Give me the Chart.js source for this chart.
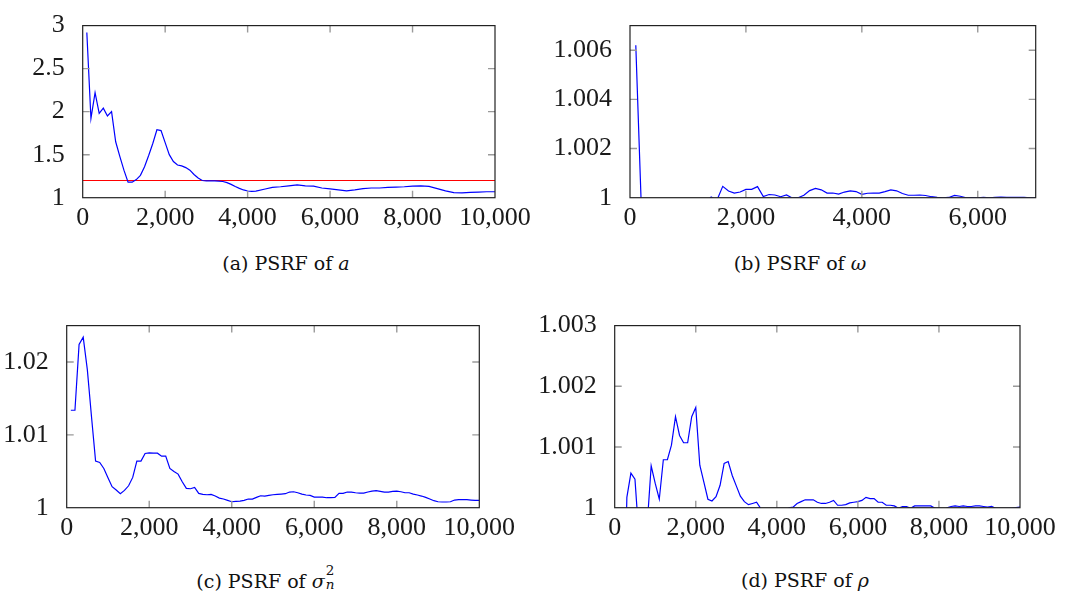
<!DOCTYPE html>
<html>
<head>
<meta charset="utf-8">
<script src="https://cdn.jsdelivr.net/npm/chart.js@4.4.1/dist/chart.umd.min.js"></script>
<style>
  body { margin: 0; background: #fff; width: 1072px; height: 592px; position: relative; overflow: hidden; }
  canvas { position: absolute; }
  .cap { position: absolute; font-family: 'DejaVu Serif', serif; font-size: 19px; line-height: 22px; color: #111; white-space: nowrap; transform: translateX(-50%); }
  .ss { position: relative; display: inline-block; width: 11px; height: 19px; }
  .ss span { position: absolute; left: 1px; font-size: 13.5px; line-height: 1; }
  .ss .sup { top: -5px; }
  .ss .sub { top: 9px; }
</style>
</head>
<body>
<canvas id="psrfA" width="536" height="240" style="left:0;top:0"></canvas>
<canvas id="psrfB" width="536" height="240" style="left:536px;top:0"></canvas>
<canvas id="psrfC" width="536" height="255" style="left:0;top:300px"></canvas>
<canvas id="psrfD" width="536" height="255" style="left:536px;top:300px"></canvas>
<div class="cap" style="left:286px;top:252px">(a) PSRF of <i>a</i></div>
<div class="cap" style="left:800px;top:252px">(b) PSRF of <i>ω</i></div>
<div class="cap" style="left:266px;top:569px">(c) PSRF of <i>σ</i><span class="ss"><span class="sup">2</span><span class="sub"><i>n</i></span></span></div>
<div class="cap" style="left:805px;top:569px">(d) PSRF of <i>ρ</i></div>
<script>
// PSRF per iteration count for the four parameters
const itersA = [100,200,300,400,500,600,700,800,900,1000,1100,1200,1300,1400,1500,1600,1700,1800,1900,2000,
  2100,2200,2300,2400,2500,2600,2700,2800,2900,3000,3100,3200,3300,3400,3500,3600,3700,3800,3900,4000,4100,4200,
  4400,4600,4800,5000,5200,5400,5600,5800,6000,6200,6400,6600,6800,7000,7200,7400,7600,7800,8000,8200,8400,8600,
  8800,9000,9200,9400,9600,9800,10000]
const psrfA = [2.92,1.92,2.22,1.98,2.04,1.95,2.0,1.65,1.48,1.32,1.18,1.18,1.21,1.26,1.36,1.49,1.63,1.79,1.78,1.64,
  1.5,1.42,1.38,1.37,1.35,1.32,1.27,1.23,1.2,1.195,1.195,1.195,1.193,1.188,1.175,1.155,1.13,1.108,1.09,1.078,1.074,1.076,
  1.098,1.12,1.127,1.138,1.149,1.138,1.135,1.113,1.102,1.091,1.08,1.091,1.105,1.113,1.113,1.12,1.124,1.127,1.135,1.138,1.131,1.105,
  1.08,1.058,1.055,1.062,1.065,1.069,1.069]
const thresholdA = 1.2

const itersB = [100,200,300,400,500,600,700,800,900,1000,1100,1200,1300,1400,1500,1600,1700,1800,1900,2000,
  2100,2200,2300,2400,2500,2600,2700,2800,2900,3000,3100,3200,3300,3400,3500,3600,3700,3800,3900,4000,
  4100,4200,4300,4400,4500,4600,4700,4800,4900,5000,5100,5200,5300,5400,5500,5600,5700,5800,5900,6000,
  6100,6200,6300,6400,6500,6600,6700,6800,6900,7000]
const psrfB = [1.0062,0.9993,0.9988,0.9985,0.9984,0.9987,0.999,0.9992,0.9993,0.9995,0.9996,0.9997,0.9998,1.00003,0.9999,1.00046,1.00027,1.00019,1.00023,1.00034,
  1.00034,1.00045,1.00005,1.00013,1.00011,1.00004,1.00011,0.99999,1.0,1.0001,1.00029,1.00038,1.00032,1.00019,1.00019,1.00015,1.00023,1.00028,1.00025,1.00014,
  1.00018,1.00019,1.00019,1.00025,1.00032,1.00028,1.00017,1.0001,1.0001,1.00011,1.00009,1.00004,1.00001,0.99999,1.00001,1.00009,1.00006,0.99999,1.0,0.99999,
  1.00001,0.99999,1.00001,1.00002,1.00001,1.00001,1.00001,1.00001,0.99999,0.99999]

const itersC = [100,200,300,400,500,600,700,800,900,1000,1100,1200,1300,1400,1500,1600,1700,1800,1900,2000,
  2100,2200,2300,2400,2500,2600,2700,2800,2900,3000,3100,3200,3300,3400,3500,3600,3700,3800,3900,4000,
  4100,4200,4300,4400,4500,4600,4700,4800,4900,5000,5100,5200,5300,5400,5500,5600,5700,5800,5900,6000,
  6100,6200,6300,6400,6500,6600,6700,6800,6900,7000,7100,7200,7300,7400,7500,7600,7700,7800,7900,8000,
  8100,8200,8300,8400,8500,8600,8700,8800,8900,9000,9100,9200,9300,9400,9500,9600,9700,9800,9900,10000]
const psrfC = [1.01338,1.01338,1.02242,1.02342,1.01895,1.01256,1.00639,1.00621,1.00539,1.00411,1.00288,1.00242,1.00192,1.00237,1.00301,1.00416,1.00639,1.00639,1.00744,1.00753,
  1.00749,1.00749,1.00708,1.00708,1.00539,1.00498,1.00461,1.00356,1.00265,1.0026,1.00279,1.00196,1.00183,1.00178,1.00183,1.0016,1.00132,1.00119,1.001,1.00082,
  1.00087,1.00091,1.001,1.00119,1.00119,1.00142,1.00164,1.0016,1.00169,1.00178,1.00183,1.00187,1.00192,1.00215,1.00219,1.00205,1.00187,1.00174,1.00169,1.00146,
  1.00146,1.00146,1.00137,1.00137,1.00142,1.00196,1.00196,1.00215,1.00215,1.00205,1.00201,1.00201,1.00215,1.00228,1.00233,1.00224,1.00215,1.00215,1.00224,1.00228,
  1.00219,1.00205,1.00205,1.00187,1.00174,1.0016,1.00142,1.00119,1.00096,1.00082,1.00078,1.00078,1.00082,1.00105,1.0011,1.0011,1.0011,1.00105,1.001,1.001]

const itersD = itersC
const psrfD = [0.9996,0.997,1.00017,1.00057,1.00047,0.9995,0.9993,0.9997,1.00069,1.0004,1.00014,1.00079,1.00079,1.00103,1.0015,1.00119,1.00107,1.00107,1.0015,1.00165,
  1.0007,1.00042,1.00014,1.00011,1.00018,1.00037,1.00073,1.00076,1.00053,1.00036,1.00019,1.0001,1.00005,1.00007,1.00009,0.99999,0.9998,0.9997,0.9997,0.9997,
  0.9998,0.9999,1.0,1.00001,1.00007,1.0001,1.00013,1.00013,1.00013,1.00009,1.00007,1.00007,1.00009,1.00012,1.00004,1.00004,1.00005,1.00008,1.00009,1.0001,
  1.00012,1.00017,1.00015,1.00015,1.00009,1.00009,1.00004,1.00004,1.00003,0.99999,1.00002,1.00002,0.99999,1.00003,1.00003,1.00003,1.00003,1.00003,0.99999,0.9999,
  0.9999,1.0,1.00002,1.00003,1.00002,1.00003,1.00002,1.00002,1.00003,1.00003,1.00002,1.00001,1.00002,0.99999,0.99999,0.99999,0.99999,0.99999,1.0,1.00001]

const xTicksWide = [0, 2000, 4000, 6000, 8000, 10000]
const xTicksB = [0, 2000, 4000, 6000]
const yTicksA = [1, 1.5, 2, 2.5, 3]
const yTicksB = [1, 1.002, 1.004, 1.006]
const yTicksC = [1, 1.01, 1.02]
const yTicksD = [1, 1.001, 1.002, 1.003]

Chart.defaults.font.family = "'Liberation Serif', serif"
Chart.defaults.font.size = 26
Chart.defaults.color = '#1a1a1a'

// box frame plus short grey tick marks drawn inside the plot on every side
const frame = {
  id: 'frame',
  afterDatasetsDraw(chart) {
    const { ctx, chartArea: a, scales } = chart
    const len = 7
    ctx.save()
    ctx.strokeStyle = '#9a9a9a'
    ctx.lineWidth = 1.4
    ctx.beginPath()
    scales.x.ticks.forEach(t => {
      const px = scales.x.getPixelForValue(t.value)
      if (px <= a.left + 1 || px >= a.right - 1) return
      ctx.moveTo(px, a.bottom); ctx.lineTo(px, a.bottom - len)
      ctx.moveTo(px, a.top); ctx.lineTo(px, a.top + len)
    })
    scales.y.ticks.forEach(t => {
      const py = scales.y.getPixelForValue(t.value)
      if (py <= a.top + 1 || py >= a.bottom - 1) return
      ctx.moveTo(a.left, py); ctx.lineTo(a.left + len, py)
      ctx.moveTo(a.right, py); ctx.lineTo(a.right - len, py)
    })
    ctx.stroke()
    ctx.strokeStyle = '#222'
    ctx.lineWidth = 1.2
    ctx.strokeRect(a.left, a.top, a.right - a.left, a.bottom - a.top)
    ctx.restore()
  }
}

function toPoints(xs, ys) {
  return xs.map((x, i) => ({ x: x, y: ys[i] }))
}

function drawPsrf(id, pad, datasets, xMax, xTicks, yMin, yMax, yTicks) {
  return new Chart(document.getElementById(id), {
    type: 'line',
    data: { datasets: datasets },
    options: {
      responsive: false,
      animation: false,
      devicePixelRatio: 1,
      layout: { autoPadding: false, padding: { top: pad.top, right: pad.right, left: 0, bottom: 0 } },
      plugins: { legend: { display: false }, tooltip: { enabled: false } },
      elements: { point: { radius: 0 }, line: { tension: 0, borderWidth: 1.2 } },
      scales: {
        x: {
          type: 'linear', min: 0, max: xMax,
          grid: { display: false }, border: { display: false },
          afterBuildTicks: s => { s.ticks = xTicks.map(v => ({ value: v })) },
          afterFit: s => { s.height = pad.bottom },
          ticks: { padding: -3, autoSkip: false, maxRotation: 0, callback: v => v.toLocaleString('en-US') }
        },
        y: {
          type: 'linear', min: yMin, max: yMax,
          grid: { display: false }, border: { display: false },
          afterBuildTicks: s => { s.ticks = yTicks.map(v => ({ value: v })) },
          afterFit: s => { s.width = pad.left },
          ticks: { padding: 10, autoSkip: false, callback: v => String(v) }
        }
      }
    },
    plugins: [frame]
  })
}

const blue = c => ({ data: c, borderColor: '#0000ff', borderWidth: 1.2, fill: false })

drawPsrf('psrfA', { left: 82.7, top: 14.3, right: 41, bottom: 42.3 },
  [blue(toPoints(itersA, psrfA)),
   { data: toPoints([0, 10000], [thresholdA, thresholdA]), borderColor: '#ff0000', borderWidth: 1.1 }],
  10000, xTicksWide, 1, 3, yTicksA)

drawPsrf('psrfB', { left: 94, top: 14.3, right: 36.3, bottom: 42.3 },
  [blue(toPoints(itersB, psrfB))], 7000, xTicksB, 1, 1.007, yTicksB)

drawPsrf('psrfC', { left: 66.7, top: 24.3, right: 56.7, bottom: 47.3 },
  [blue(toPoints(itersC, psrfC))], 10000, xTicksWide, 1, 1.025, yTicksC)

drawPsrf('psrfD', { left: 78.7, top: 24.3, right: 52, bottom: 47.3 },
  [blue(toPoints(itersD, psrfD))], 10000, xTicksWide, 1, 1.003, yTicksD)
</script>
</body>
</html>
